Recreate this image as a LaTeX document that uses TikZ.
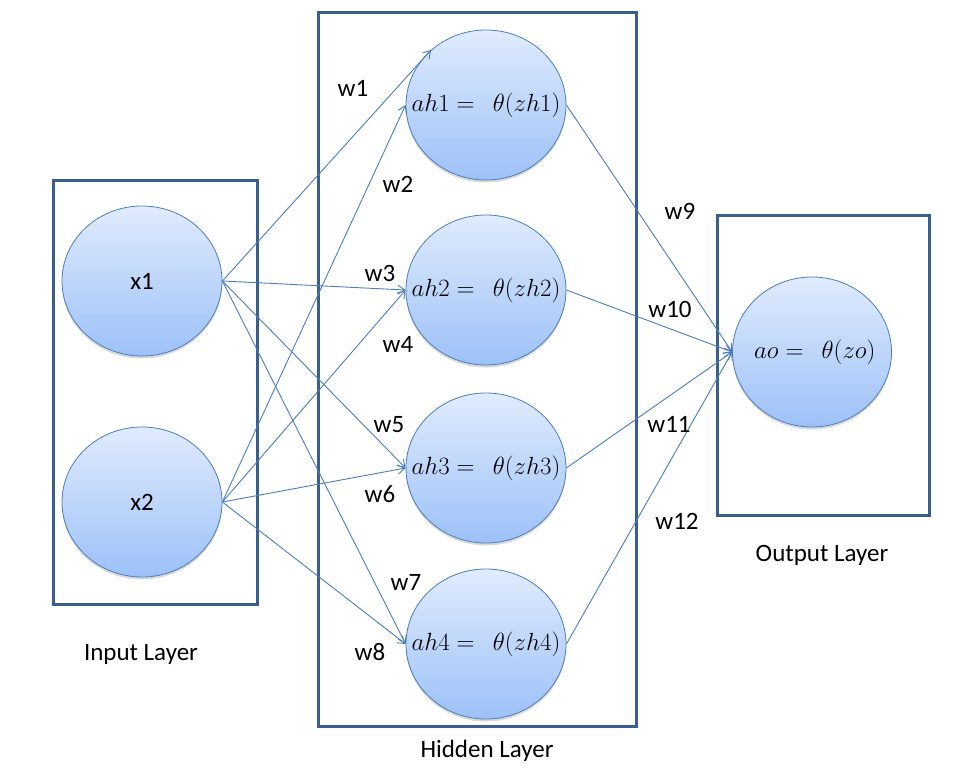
\documentclass[tikz,border=0pt]{standalone}
\usepackage{fontspec}
\setmainfont{Carlito}
\usetikzlibrary{shapes.geometric, arrows.meta, shadows}
\definecolor{edgeblue}{HTML}{4A7EBB}
\definecolor{boxblue}{HTML}{3A5F8E}
\definecolor{celltop}{HTML}{E0EBFD}
\definecolor{cellbottom}{HTML}{9DC1F8}
\newcommand{\celltext}[1]{\makebox[0pt]{#1}}
\tikzset{
	arrow/.style={
		draw=edgeblue,
		line width=0.9pt,
		-{Straight Barb[length=7pt,width=9pt]}
    },
	neuron/.style={
		ellipse,
		draw=edgeblue,
		line width=0.8pt,
		top color=celltop,
		bottom color=cellbottom,
		minimum width=160pt,
		minimum height=150pt,
		inner sep=0pt,
		drop shadow={shadow xshift=0pt,shadow yshift=-2.5pt,opacity=0.3}
    },
	layer/.style={
		draw=boxblue,
		line width=3pt,
		rectangle,
		inner sep=0pt
    },
	weight/.style={font=\fontsize{25}{30}\selectfont},
	caption/.style={font=\fontsize{25}{30}\selectfont,anchor=base},
}

\begin{document}
\begin{tikzpicture}[x=1pt,y=-1pt]
\useasboundingbox (0,0) rectangle (956,780);

% Layer boxes
\node[layer,minimum width=204pt,minimum height=424pt] (InBox) at (155,392) {};
\node[layer,minimum width=318pt,minimum height=714pt] (HidBox) at (477,369) {};
\node[layer,minimum width=212pt,minimum height=300pt] (OutBox) at (823,365) {};

% Input
\node[neuron,font=\fontsize{25}{30}\selectfont] (x1) at (142,281) {x1};
\node[neuron,font=\fontsize{25}{30}\selectfont] (x2) at (142,502) {x2};
\node[caption] (InL) at (141,660) {Input Layer};

% Hidden
\node[neuron,font=\fontsize{25}{30}\selectfont] (h1) at (486,105) {\celltext{$ah1 =\ \ \theta(zh1)$}};
\node[neuron,font=\fontsize{25}{30}\selectfont] (h2) at (486,290) {\celltext{$ah2 =\ \ \theta(zh2)$}};
\node[neuron,font=\fontsize{25}{30}\selectfont] (h3) at (486,468) {\celltext{$ah3 =\ \ \theta(zh3)$}};
\node[neuron,font=\fontsize{25}{30}\selectfont] (h4) at (486,644) {\celltext{$ah4 =\ \ \theta(zh4)$}};
\node[caption] (HidL) at (487,757) {Hidden Layer};

% Output
\node[neuron,minimum width=159pt,font=\fontsize{25}{30}\selectfont] (o) at (812,352) {\celltext{$\ ao =\ \ \theta(zo)$}};
\node[caption] (OutL) at (822,561) {Output Layer};

% Arrows
\draw [arrow] (x1.east) -- (h1.135);
\draw [arrow] (x2.east) -- (h1.west);
\draw [arrow] (x1.east) -- (h2.west);
\draw [arrow] (x2.east) -- (h2.west);
\draw [arrow] (x1.east) -- (h3.west);
\draw [arrow] (x2.east) -- (h3.west);
\draw [arrow] (x1.east) -- (h4.west);
\draw [arrow] (x2.east) -- (h4.west);
\draw [arrow] (h1.east) -- (o.west);
\draw [arrow] (h2.east) -- (o.west);
\draw [arrow] (h3.east) -- (o.west);
\draw [arrow] (h4.east) -- (o.west);

% Weights
\node[weight] (w1) at (353,88) {w1};
\node[weight] (w2) at (398,184) {w2};
\node[weight] (w3) at (380,273) {w3};
\node[weight] (w4) at (398,344) {w4};
\node[weight] (w5) at (389,425) {w5};
\node[weight] (w6) at (380,494) {w6};
\node[weight] (w7) at (406,582) {w7};
\node[weight] (w8) at (370,652) {w8};
\node[weight] (w9) at (680,211) {w9};
\node[weight] (w10) at (670,309) {w10};
\node[weight] (w11) at (669,424) {w11};
\node[weight] (w12) at (677,521) {w12};

\end{tikzpicture}
\end{document}
